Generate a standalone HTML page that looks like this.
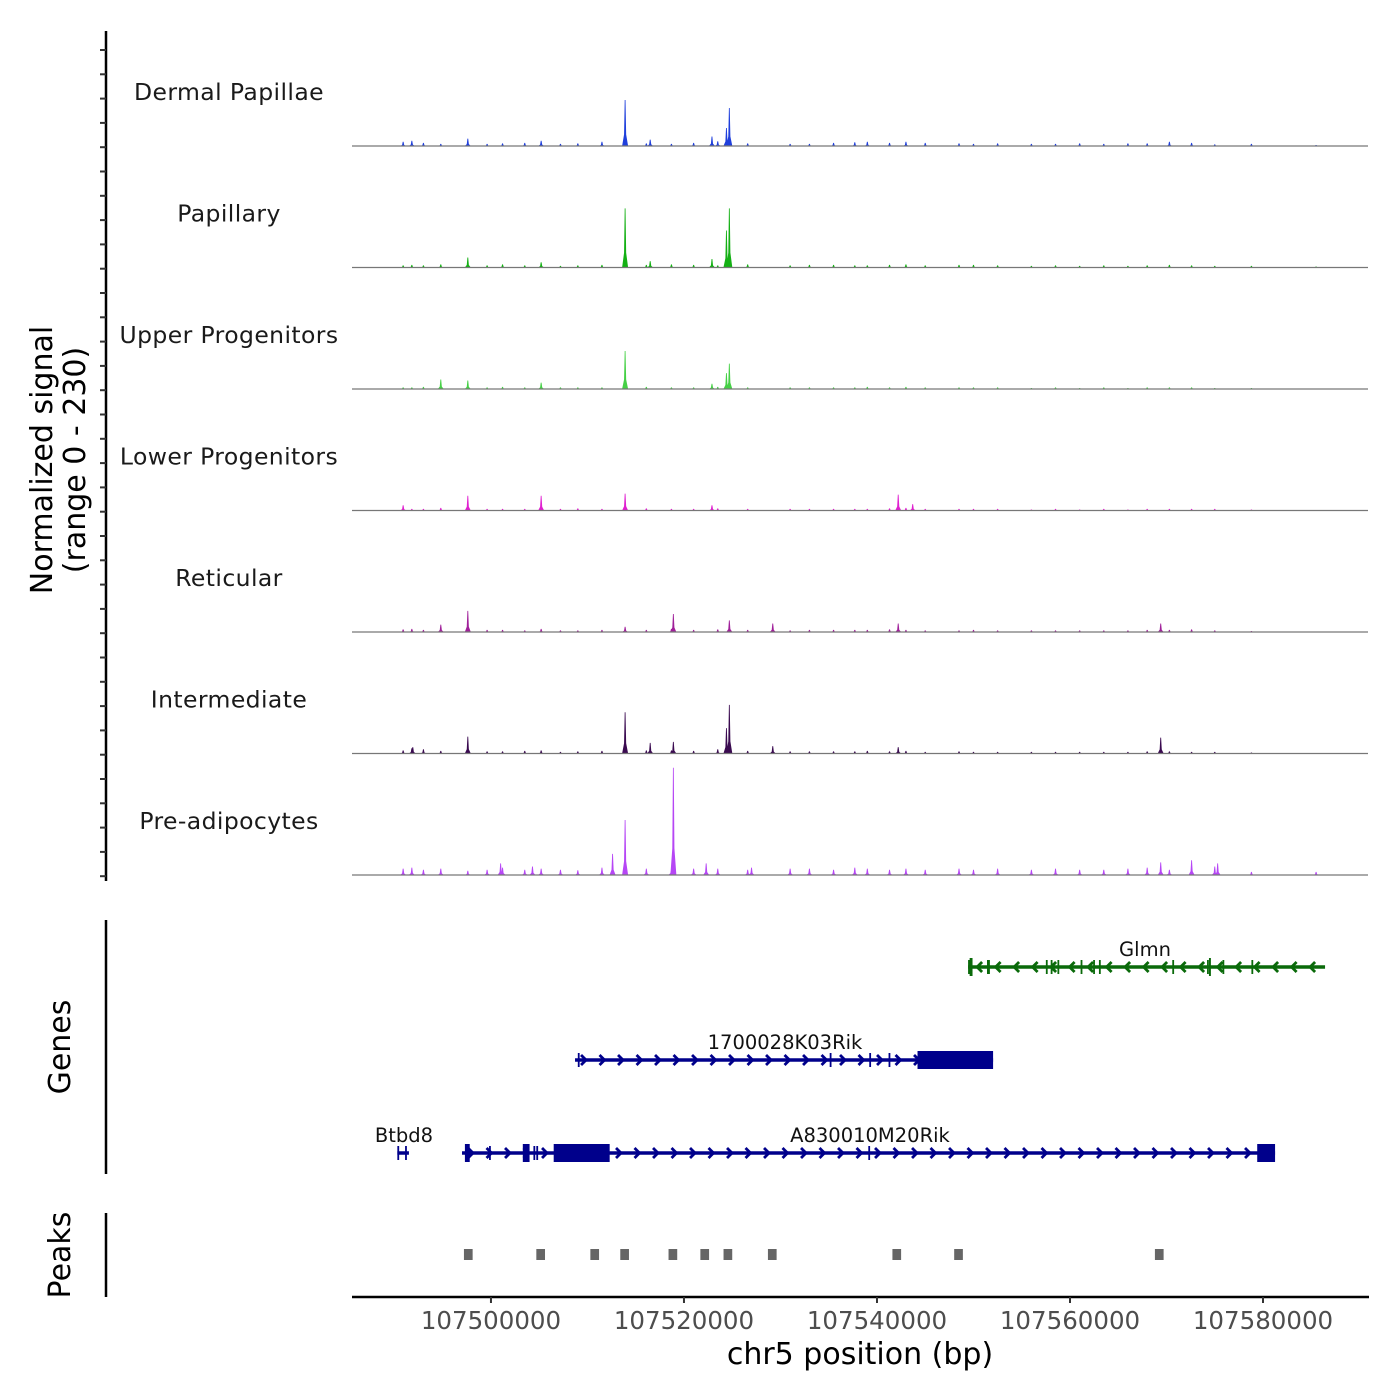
<!DOCTYPE html>
<html><head><meta charset="utf-8"><style>
html,body{margin:0;padding:0;background:#fff;}
svg{display:block;font-family:"DejaVu Sans","Liberation Sans",sans-serif;}
</style></head><body>
<svg id="chart" width="1400" height="1400" viewBox="0 0 1400 1400">
<rect width="1400" height="1400" fill="#fff"/>
<g id="tracks"></g>
<g id="genes"></g>
<g id="peaks"></g>
<g id="axes"></g>
</svg>
<script>
// ---- data (bp positions in kb offset from 107,000,000; values in signal units 0-230)
const trackNames = ["Dermal Papillae","Papillary","Upper Progenitors","Lower Progenitors","Reticular","Intermediate","Pre-adipocytes"];
const trackColors = ["#1f3fdc","#14b014","#45d045","#e020d0","#a0209a","#3a0a50","#b646f5"];
const majorPos = [
 [513.9,524.7,524.4,522.9,516.5,497.6,505.2],
 [513.9,524.7,524.4,497.6,516.5,522.9,505.2],
 [513.9,524.7,524.4,494.8,497.6,505.2,522.9],
 [497.6,505.2,513.9,542.2,543.7,490.9,522.9],
 [497.6,518.9,524.7,529.2,542.2,569.4,494.8,513.9],
 [513.9,524.7,524.4,518.9,516.5,497.6,569.4,529.2,542.2,491.9],
 [518.9,513.9,512.6,501.0,522.3,572.6,569.4,575.3,527.0,504.3]
];
const majorVal = [
 [87,72,34,18,12,14,10],
 [112,112,70,19,12,16,10],
 [72,48,30,18,16,12,10],
 [28,28,32,30,12,10,10],
 [40,34,22,16,16,16,14,10],
 [78,92,48,22,20,32,30,14,12,12],
 [203,104,40,22,22,28,24,22,14,16]
];
const minorPos = [490.9,491.8,493,494.8,497.6,499.6,501.2,503.5,505.2,507.2,509,511.5,516.1,518.7,521,523.5,526.6,531,533,535.5,537.7,539,541.3,543,545,548.5,550,552.5,556,558.5,561,563.5,566,568,570.3,572.6,575,578.8,585.5];
const minorVal = [
 [8,10,6,4,6,4,5,6,7,4,5,8,5,4,6,9,5,4,4,6,7,8,6,8,6,5,4,5,4,4,5,4,5,5,8,6,3,4,2],
 [4,5,4,6,10,4,6,4,8,3,4,5,5,6,5,4,6,4,5,5,4,4,5,6,4,5,5,4,3,4,3,4,3,4,5,4,3,3,2],
 [3,3,4,6,8,3,4,3,6,3,3,3,4,3,3,4,3,3,3,3,3,4,3,4,3,3,3,3,2,3,2,3,2,3,3,3,2,2,1],
 [4,3,3,5,6,3,3,3,4,3,4,3,4,3,3,4,3,3,3,3,3,3,4,5,3,3,3,3,2,3,2,3,2,3,3,3,3,2,1],
 [5,6,4,6,8,4,4,3,6,3,3,4,4,6,4,5,4,3,4,4,4,4,5,4,3,3,4,3,3,3,3,3,3,4,4,5,3,2,1],
 [6,10,8,5,6,4,4,5,6,3,4,5,6,6,5,8,5,4,4,4,4,5,4,5,3,4,3,3,3,3,3,3,3,4,4,3,3,2,1],
 [12,14,10,12,8,10,14,10,12,10,9,14,12,14,12,12,10,12,12,10,14,12,10,12,10,12,10,12,10,12,10,10,12,14,10,14,16,6,6]
];
const geneNames = ["Glmn","1700028K03Rik","A830010M20Rik","Btbd8"];
const geneStart = [549.44,508.71,497.0,490.3];
const geneEnd = [586.43,552.03,581.25,491.5];
const geneStrand = [-1,1,1,1];
const geneRow = [0,1,2,2];
const geneExonStart = [
 [549.44,549.6,551.4,557.5,558.0,558.7,561.1,562.4,563.0,570.6,574.2,574.4,575.8,578.8],
 [509.0,535.1,539.2,541.2,544.2],
 [497.3,499.8,503.3,504.4,504.7,506.5,539.1,579.4],
 [490.3,491.1]
];
const geneExonEnd = [
 [549.7,549.9,551.7,557.6,558.1,558.8,561.2,562.5,563.1,570.7,574.3,574.6,575.9,578.9],
 [509.1,535.2,539.3,541.3,552.03],
 [497.8,499.9,504.0,504.5,504.8,512.3,539.2,581.25],
 [490.4,491.2]
];
const geneExonThick = [
 [0,1,0,0,0,0,0,0,0,0,0,1,0,0],
 [0,0,0,0,1],
 [1,0,1,0,0,1,0,1],
 [0,0]
];
const peakStart = [497.2,504.7,510.3,513.4,518.4,521.7,524.1,528.7,541.6,548.0,568.8];
const peakEnd = [498.1,505.6,511.2,514.3,519.3,522.6,525.0,529.6,542.5,548.9,569.7];
const xTicks = [500,520,540,560,580];
const xTickLabels = ["107500000","107520000","107540000","107560000","107580000"];

// ---- scales
const X0 = 352, X1 = 1368, D0 = 485.6, D1 = 590.88;
const xs = kb => X0 + (kb - D0) / (D1 - D0) * (X1 - X0);
const baselines = [146,267.5,389,510.5,632,753.5,875];
const ys = (i, v) => baselines[i] - v / 230 * 121.5;
const NS = "http://www.w3.org/2000/svg";
function mk(tag, attrs, parent){const e=document.createElementNS(NS,tag);for(const k in attrs)e.setAttribute(k,attrs[k]);parent.appendChild(e);return e;}
function spike(i, kb, v, w){
  const x = xs(kb), b = baselines[i], t = ys(i, v), m = b - (b - t) * 0.25;
  return `M${x-w},${b}L${x-w*0.35},${m}L${x-0.4},${t}L${x+0.4},${t}L${x+w*0.35},${m}L${x+w},${b}Z`;
}
const tracks = document.getElementById('tracks');
for (let i = 0; i < trackNames.length; i++) {
  const g = mk('g', {}, tracks);
  
  
  const lab = mk('text', {x:229, y:baselines[i]-46, 'text-anchor':'middle', 'font-size':23.5, fill:'#1a1a1a', 'letter-spacing':'0.4'}, g);
  lab.textContent = trackNames[i];
  
  
  let d = '';
  for (let j = 0; j < minorPos.length; j++) d += spike(i, minorPos[j], minorVal[i][j], 3);
  for (let j = 0; j < majorPos[i].length; j++) d += spike(i, majorPos[i][j], majorVal[i][j], 3);
  const p = mk('path', {d:d, fill:trackColors[i]}, g);
  
  
  const bl = mk('line', {x1:X0, x2:X1, y1:baselines[i], y2:baselines[i], stroke:'#777', 'stroke-width':1.2}, g);
  
  
}
// genes
const genes = document.getElementById('genes');
const rowY = [967,1060,1153];
const labelX = {"Btbd8":404,"Glmn":1145,"A830010M20Rik":870,"1700028K03Rik":785};
for (let i = 0; i < geneNames.length; i++) {
  const col = geneStrand[i] < 0 ? '#0a6a0a' : '#00008b';
  const y = rowY[geneRow[i]];
  const g = mk('g', {}, genes);
  
  
  const xa = xs(geneStart[i]), xb = xs(geneEnd[i]);
  mk('line', {x1:xa, x2:xb, y1:y, y2:y, stroke:col, 'stroke-width':3.5}, g);
  let arrows = '';
  for (let x = xa + 10; x < xb - 4; x += 18.5) {
    if (geneStrand[i] > 0) arrows += `M${x-4},${y-5}L${x+1},${y}L${x-4},${y+5}`;
    else arrows += `M${x+4},${y-5}L${x-1},${y}L${x+4},${y+5}`;
  }
  mk('path', {d:arrows, stroke:col, 'stroke-width':2.8, fill:'none'}, g);
  for (let j = 0; j < geneExonStart[i].length; j++) {
    const e0 = xs(geneExonStart[i][j]), e1 = xs(geneExonEnd[i][j]);
    const h = geneExonThick[i][j] ? 18 : 14;
    const r = mk('rect', {x:e0, y:y-h/2, width:Math.max(e1-e0,1.8), height:h, fill:col}, g);
    
    
  }
  const t = mk('text', {x:labelX[geneNames[i]], y:y-11, 'text-anchor':'middle', 'font-size':19.5, fill:'#111'}, g);
  t.textContent = geneNames[i];
  
  
}
// peaks
const peaks = document.getElementById('peaks');
for (let i = 0; i < peakStart.length; i++) {
  const r = mk('rect', {x:xs(peakStart[i]), y:1249, width:xs(peakEnd[i])-xs(peakStart[i]), height:11, fill:'#666'}, peaks);
  
  
}
// axes
const axes = document.getElementById('axes');
mk('line', {x1:106, x2:106, y1:31, y2:881, stroke:'#000', 'stroke-width':2.5}, axes);
for (let k = 0; k < 35; k++) {
  const y = 50 + k * 24.3;
  mk('line', {x1:100, x2:106, y1:y, y2:y, stroke:'#333', 'stroke-width':2}, axes);
}
mk('line', {x1:106, x2:106, y1:920, y2:1174, stroke:'#000', 'stroke-width':2.5}, axes);
mk('line', {x1:106, x2:106, y1:1213, y2:1297, stroke:'#000', 'stroke-width':2.5}, axes);
mk('line', {x1:352, x2:1369, y1:1297, y2:1297, stroke:'#000', 'stroke-width':2.5}, axes);
for (let k = 0; k < xTicks.length; k++) {
  const x = xs(xTicks[k]);
  mk('line', {x1:x, x2:x, y1:1297, y2:1303, stroke:'#333', 'stroke-width':2}, axes);
  const t = mk('text', {x:x, y:1329, 'text-anchor':'middle', 'font-size':24.5, fill:'#4d4d4d'}, axes);
  t.textContent = xTickLabels[k];
  
  
}
const xt = mk('text', {x:860, y:1364, 'text-anchor':'middle', 'font-size':30, fill:'#000'}, axes);
xt.textContent = 'chr5 position (bp)';


const yt = mk('text', {transform:'translate(52,460) rotate(-90)', 'text-anchor':'middle', 'font-size':30, fill:'#000'}, axes);
yt.innerHTML = '<tspan x="0" dy="0">Normalized signal</tspan><tspan x="0" dy="33">(range 0 - 230)</tspan>';


const gt = mk('text', {transform:'translate(70,1047) rotate(-90)', 'text-anchor':'middle', 'font-size':30, fill:'#000'}, axes);
gt.textContent = 'Genes';


const pt = mk('text', {transform:'translate(70,1255) rotate(-90)', 'text-anchor':'middle', 'font-size':30, fill:'#000'}, axes);
pt.textContent = 'Peaks';


</script>
</body></html>
